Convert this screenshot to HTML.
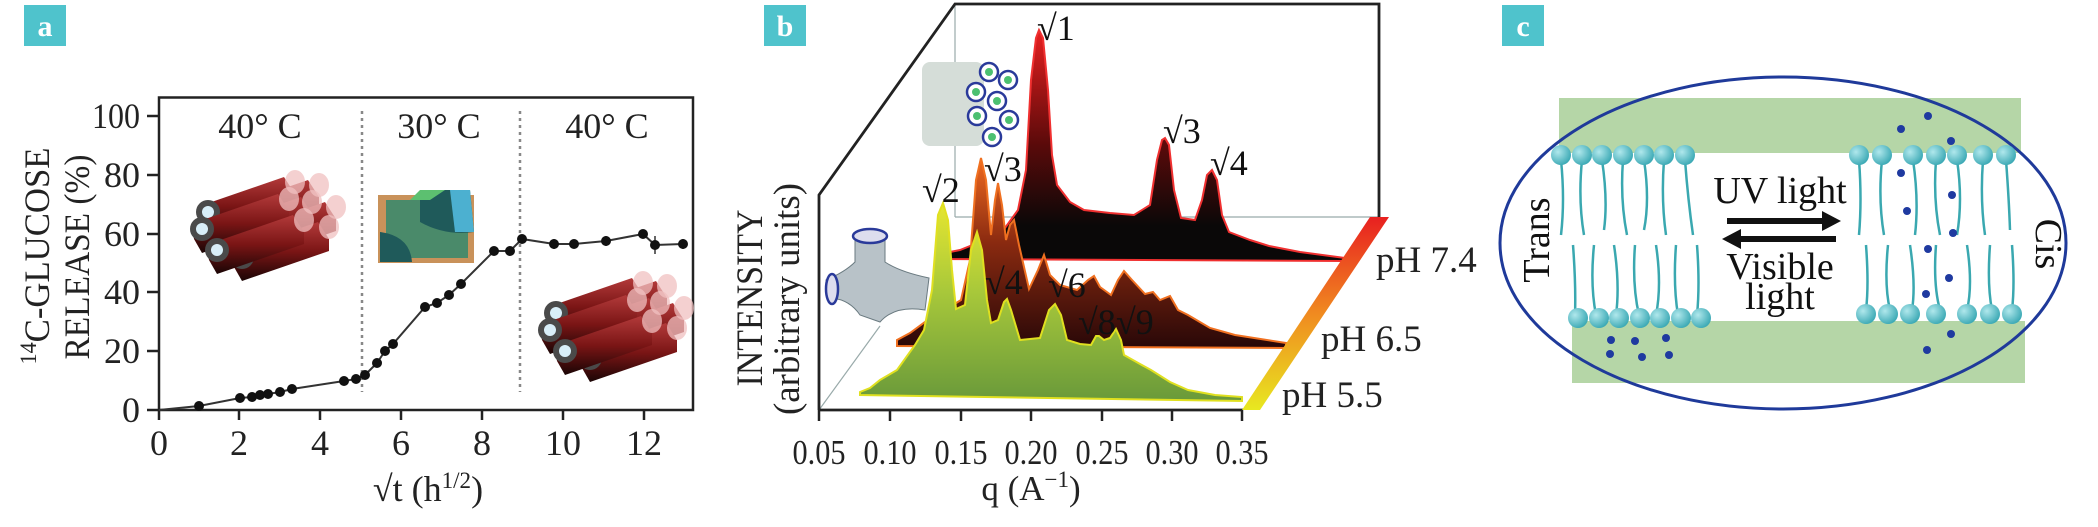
<!DOCTYPE html>
<html><head><meta charset="utf-8"><style>
body{margin:0;background:#fff;}
svg{display:block;font-family:"Liberation Serif",serif;}
</style></head><body>
<svg width="2098" height="527" viewBox="0 0 2098 527" xmlns="http://www.w3.org/2000/svg">
<defs>
<linearGradient id="cyl" x1="0" y1="0" x2="0" y2="1"><stop offset="0" stop-color="#b33a3a"/><stop offset="0.5" stop-color="#7a1515"/><stop offset="1" stop-color="#1a0505"/></linearGradient>
<g id="cy">
<path d="M-11,-5 L76,-35 L87,-18 L87,-6 L0,24 L-8,10 Z" fill="url(#cyl)"/>
<ellipse cx="87" cy="-30" rx="10" ry="12" fill="#f0c0c0" opacity="0.75"/>
<circle cx="0" cy="0" r="12" fill="#4a4a4a"/>
<circle cx="0" cy="0" r="6" fill="#d8eef8"/>
</g>
<g id="bundle">
<use href="#cy" x="24" y="3"/><use href="#cy" x="0" y="0"/><use href="#cy" x="41" y="25"/><use href="#cy" x="17" y="20"/><use href="#cy" x="-6" y="17"/><use href="#cy" x="34" y="45"/><use href="#cy" x="9" y="38"/>
</g>
<linearGradient id="gBack" gradientUnits="userSpaceOnUse" x1="0" y1="30" x2="0" y2="260"><stop offset="0" stop-color="#e82020"/><stop offset="0.5" stop-color="#5a0a0a"/><stop offset="0.85" stop-color="#0a0808"/></linearGradient>
<linearGradient id="gMid" gradientUnits="userSpaceOnUse" x1="0" y1="158" x2="0" y2="346"><stop offset="0" stop-color="#f06a20"/><stop offset="0.45" stop-color="#8a2a10"/><stop offset="1" stop-color="#2a0808"/></linearGradient>
<linearGradient id="gFront" gradientUnits="userSpaceOnUse" x1="0" y1="203" x2="0" y2="400"><stop offset="0" stop-color="#e6e630"/><stop offset="0.45" stop-color="#a8c83a"/><stop offset="1" stop-color="#6a9a3a"/></linearGradient>
<linearGradient id="gBand" gradientUnits="userSpaceOnUse" x1="0" y1="410" x2="0" y2="217"><stop offset="0" stop-color="#e8e820"/><stop offset="0.5" stop-color="#f08a20"/><stop offset="1" stop-color="#e82020"/></linearGradient>
<radialGradient id="head" cx="0.35" cy="0.35" r="0.7"><stop offset="0" stop-color="#b0e8ec"/><stop offset="1" stop-color="#3aa8b4"/></radialGradient>
</defs>

<!-- Panel a -->
<rect x="24" y="5" width="42" height="41" fill="#4fc3cc"/>
<text x="45" y="36" font-size="30" fill="#fff" text-anchor="middle" font-weight="bold">a</text>
<rect x="159" y="97.5" width="534" height="312.5" fill="none" stroke="#222" stroke-width="2.5"/>
<g stroke="#222" stroke-width="2.5">
<line x1="147" y1="116" x2="159" y2="116"/><line x1="147" y1="175" x2="159" y2="175"/><line x1="147" y1="234" x2="159" y2="234"/><line x1="147" y1="292" x2="159" y2="292"/><line x1="147" y1="351" x2="159" y2="351"/><line x1="147" y1="410" x2="159" y2="410"/>
<line x1="159" y1="410" x2="159" y2="420"/><line x1="239" y1="410" x2="239" y2="420"/><line x1="320" y1="410" x2="320" y2="420"/><line x1="401" y1="410" x2="401" y2="420"/><line x1="482" y1="410" x2="482" y2="420"/><line x1="563" y1="410" x2="563" y2="420"/><line x1="644" y1="410" x2="644" y2="420"/>
</g>
<g font-size="36" fill="#222" text-anchor="end">
<text x="140" y="128" textLength="48" lengthAdjust="spacingAndGlyphs">100</text><text x="140" y="187">80</text><text x="140" y="246">60</text><text x="140" y="304">40</text><text x="140" y="363">20</text><text x="140" y="422">0</text>
</g>
<g font-size="36" fill="#222" text-anchor="middle">
<text x="159" y="455">0</text><text x="239" y="455">2</text><text x="320" y="455">4</text><text x="401" y="455">6</text><text x="482" y="455">8</text><text x="563" y="455">10</text><text x="644" y="455">12</text>
<text x="428" y="501">√t (h<tspan font-size="23" dy="-13">1/2</tspan><tspan dy="13">)</tspan></text>
</g>
<g font-size="36" fill="#222" text-anchor="middle">
<text transform="translate(49,256) rotate(-90)" textLength="217" lengthAdjust="spacingAndGlyphs"><tspan font-size="23" dy="-13">14</tspan><tspan dy="13">C-GLUCOSE</tspan></text>
<text transform="translate(89,257) rotate(-90)" textLength="205" lengthAdjust="spacingAndGlyphs">RELEASE (%)</text>
</g>
<g font-size="36" fill="#222" text-anchor="middle">
<text x="260" y="138">40° C</text><text x="439" y="138">30° C</text><text x="607" y="138">40° C</text>
</g>
<g stroke="#888" stroke-width="2.5" stroke-dasharray="3,4"><line x1="362" y1="111" x2="362" y2="392"/><line x1="520" y1="111" x2="520" y2="392"/></g>
<polyline fill="none" stroke="#333" stroke-width="2" points="159,410 199,406 240,398 252,397 260,395 268,394 280,392 292,389 344,381 356,379 365,375 377,363 385,351 393,344 425,307 437,303 449,295 461,284 494,251 510,251 522,239 554,244 574,244 606,241 643,234 655,245 683,244"/>
<g stroke="#333" stroke-width="1.5"><line x1="655" y1="236" x2="655" y2="254"/><line x1="554" y1="239" x2="554" y2="249"/><line x1="606" y1="236" x2="606" y2="246"/><line x1="683" y1="239" x2="683" y2="249"/></g>
<g fill="#111">
<circle cx="199" cy="406" r="5"/><circle cx="240" cy="398" r="5"/><circle cx="252" cy="397" r="5"/><circle cx="260" cy="395" r="5"/><circle cx="268" cy="394" r="5"/><circle cx="280" cy="392" r="5"/><circle cx="292" cy="389" r="5"/><circle cx="344" cy="381" r="5"/><circle cx="356" cy="379" r="5"/><circle cx="365" cy="375" r="5"/><circle cx="377" cy="363" r="5"/><circle cx="385" cy="351" r="5"/><circle cx="393" cy="344" r="5"/><circle cx="425" cy="307" r="5"/><circle cx="437" cy="303" r="5"/><circle cx="449" cy="295" r="5"/><circle cx="461" cy="284" r="5"/><circle cx="494" cy="251" r="5"/><circle cx="510" cy="251" r="5"/><circle cx="522" cy="239" r="5"/><circle cx="554" cy="244" r="5"/><circle cx="574" cy="244" r="5"/><circle cx="606" cy="241" r="5"/><circle cx="643" cy="234" r="5"/><circle cx="655" cy="245" r="5"/><circle cx="683" cy="244" r="5"/>
</g>
<use href="#bundle" x="208" y="212"/>
<use href="#bundle" x="556" y="313"/>
<!-- cube -->
<g>
<rect x="378" y="195" width="96" height="68" fill="#c9925a"/>
<rect x="386" y="200" width="82" height="58" fill="#4a8a6a"/>
<path d="M420,190 L470,190 L474,232 Q445,236 420,222 Z" fill="#1f5a5a"/>
<path d="M450,190 L470,190 L474,232 L455,232 Z" fill="#4cb0d0"/>
<path d="M420,190 L445,190 L430,200 L410,200Z" fill="#5cc070"/>
<path d="M380,232 Q410,236 412,262 L380,262 Z" fill="#1f5a5a"/>
</g>

<!-- Panel b -->
<rect x="764" y="5" width="42" height="41" fill="#4fc3cc"/>
<text x="785" y="36" font-size="30" fill="#fff" text-anchor="middle" font-weight="bold">b</text>
<line x1="955" y1="4" x2="955" y2="217" stroke="#9aa" stroke-width="1.2"/>
<line x1="955" y1="217" x2="1379" y2="217" stroke="#9aa" stroke-width="1.2"/>
<line x1="819" y1="410" x2="880" y2="326" stroke="#9aa" stroke-width="1.2"/>
<!-- back spectrum -->
<path d="M935,255 L960,250 L985,240 L1005,228 L1018,210 L1026,170 L1031,80 L1036,38 L1039,30 L1043,38 L1048,90 L1052,155 L1057,185 L1070,202 L1084,210 L1110,213 L1134,215 L1150,205 L1157,160 L1162,140 L1165,138 L1169,145 L1174,190 L1181,218 L1195,220 L1202,200 L1207,175 L1212,170 L1217,180 L1222,215 L1229,232 L1250,240 L1269,246 L1300,252 L1345,258 L1345,261 L935,259 Z" fill="url(#gBack)" stroke="#f03030" stroke-width="2"/>
<!-- mid spectrum -->
<path d="M897,340 L910,333 L925,322 L945,310 L961,300 L970,260 L976,180 L981,158 L986,180 L991,235 L995,200 L998,183 L1002,205 L1006,240 L1010,225 L1014,220 L1019,245 L1029,289 L1038,270 L1044,255 L1050,275 L1060,285 L1077,290 L1088,280 L1094,276 L1100,287 L1111,295 L1118,280 L1124,271 L1132,280 L1145,294 L1153,292 L1160,300 L1170,296 L1178,310 L1188,315 L1210,328 L1235,335 L1286,343 L1286,348 L897,346 Z" fill="url(#gMid)" stroke="#f07020" stroke-width="2"/>
<!-- front spectrum -->
<path d="M860,392 L870,388 L880,380 L897,370 L915,345 L924,330 L932,290 L938,215 L943,203 L948,220 L952,270 L956,309 L965,305 L971,250 L977,232 L982,250 L987,300 L991,323 L998,320 L1004,302 L1007,299 L1011,310 L1020,340 L1030,339 L1040,338 L1049,310 L1055,304 L1061,315 L1067,340 L1080,344 L1091,345 L1096,336 L1099,336 L1104,340 L1110,338 L1116,329 L1121,340 L1124,355 L1140,364 L1151,370 L1170,382 L1188,390 L1215,395 L1242,397 L1242,401 L860,395 Z" fill="url(#gFront)" stroke="#e0e020" stroke-width="2"/>
<g stroke="#222" stroke-width="2.8" fill="none">
<polyline points="819,410 819,195 955,4 1379,4 1379,217"/>
<line x1="819" y1="410" x2="1243" y2="410"/>
</g>
<g stroke="#222" stroke-width="2.5">
<line x1="819" y1="410" x2="819" y2="421"/><line x1="890" y1="410" x2="890" y2="421"/><line x1="961" y1="410" x2="961" y2="421"/><line x1="1031" y1="410" x2="1031" y2="421"/><line x1="1102" y1="410" x2="1102" y2="421"/><line x1="1172" y1="410" x2="1172" y2="421"/><line x1="1242" y1="410" x2="1242" y2="421"/>
</g>
<g font-size="35" fill="#222" text-anchor="middle">
<text x="819" y="464" textLength="53" lengthAdjust="spacingAndGlyphs">0.05</text><text x="890" y="464" textLength="53" lengthAdjust="spacingAndGlyphs">0.10</text><text x="961" y="464" textLength="53" lengthAdjust="spacingAndGlyphs">0.15</text><text x="1031" y="464" textLength="53" lengthAdjust="spacingAndGlyphs">0.20</text><text x="1102" y="464" textLength="53" lengthAdjust="spacingAndGlyphs">0.25</text><text x="1172" y="464" textLength="53" lengthAdjust="spacingAndGlyphs">0.30</text><text x="1242" y="464" textLength="53" lengthAdjust="spacingAndGlyphs">0.35</text>
<text x="1031" y="500">q (A<tspan font-size="23" dy="-13">−1</tspan><tspan dy="13">)</tspan></text>
<text transform="translate(762,298) rotate(-90)" font-size="37" textLength="177" lengthAdjust="spacingAndGlyphs">INTENSITY</text>
<text transform="translate(799,299) rotate(-90)" font-size="37" textLength="232" lengthAdjust="spacingAndGlyphs">(arbitrary units)</text>
</g>
<!-- pH band -->
<path d="M1242,410 L1260,410 L1389,217 L1370,217 Z" fill="url(#gBand)"/>
<g font-size="37" fill="#222">
<text x="1376" y="272">pH 7.4</text><text x="1321" y="351">pH 6.5</text><text x="1282" y="407">pH 5.5</text>
</g>
<g font-size="36" fill="#111">
<text x="1037" y="40">√1</text><text x="1163" y="143">√3</text><text x="1210" y="175">√4</text><text x="984" y="181">√3</text><text x="922" y="202">√2</text><text x="985" y="294">√4</text><text x="1048" y="297">√6</text><text x="1078" y="334">√8</text><text x="1116" y="334">√9</text>
</g>
<!-- hex cylinders icon -->
<g>
<rect x="922" y="62" width="62" height="84" rx="8" fill="#d5ddd8"/>
<g fill="#fff" stroke="#2a3a9a" stroke-width="2.5">
<circle cx="989" cy="72" r="9"/><circle cx="1008" cy="80" r="9"/><circle cx="976" cy="92" r="9"/><circle cx="997" cy="101" r="9"/><circle cx="1009" cy="120" r="9"/><circle cx="977" cy="116" r="9"/><circle cx="992" cy="137" r="9"/>
</g>
<g fill="#4cc070"><circle cx="989" cy="72" r="4"/><circle cx="1008" cy="80" r="4"/><circle cx="976" cy="92" r="4"/><circle cx="997" cy="101" r="4"/><circle cx="1009" cy="120" r="4"/><circle cx="977" cy="116" r="4"/><circle cx="992" cy="137" r="4"/></g>
</g>
<!-- gyroid icon -->
<path d="M855,236 L885,236 L885,262 Q900,272 929,278 L925,310 Q895,305 880,322 L860,315 Q850,300 832,298 L826,280 Q845,272 855,262 Z" fill="#b8c2c8" stroke="#6a7a80"/>
<ellipse cx="870" cy="236" rx="17" ry="7" fill="#dde" stroke="#2a3a9a" stroke-width="2.5"/>
<ellipse cx="832" cy="289" rx="6" ry="15" fill="#dde" stroke="#2a3a9a" stroke-width="2.5"/>

<!-- Panel c -->
<rect x="1502" y="5" width="42" height="41" fill="#4fc3cc"/>
<text x="1523" y="36" font-size="30" fill="#fff" text-anchor="middle" font-weight="bold">c</text>
<rect x="1559" y="98" width="462" height="55" fill="#b5d6a7"/>
<rect x="1572" y="321" width="453" height="62" fill="#b5d6a7"/>
<ellipse cx="1783" cy="243" rx="283" ry="166" fill="none" stroke="#1f3a9a" stroke-width="3"/>
<g stroke="#3aa8b0" stroke-width="2.5" fill="none">
<path d="M1561,160 q4,40 0,75 M1582,160 q-4,40 2,75 M1602,160 q6,40 2,70 M1623,160 q-3,40 4,75 M1644,160 q6,40 0,70 M1664,160 q-3,40 2,75 M1685,160 q3,40 8,75"/>
<path d="M1573,245 q3,40 2,70 M1594,245 q-4,40 2,70 M1614,245 q6,40 2,70 M1635,245 q-3,40 4,70 M1656,245 q6,40 0,70 M1676,245 q-3,40 2,70 M1697,245 q3,40 0,70"/>
<path d="M1859,160 q3,40 0,75 M1882,160 q-4,40 2,75 M1913,160 q6,40 2,75 M1936,160 q-3,40 4,75 M1957,160 q6,40 0,75 M1983,160 q-3,40 2,75 M2006,160 q3,40 4,70"/>
<path d="M1866,245 q3,40 0,65 M1888,245 q-4,40 2,65 M1910,245 q6,40 2,65 M1936,245 q-3,40 4,65 M1967,245 q6,40 0,65 M1990,245 q-3,40 2,65 M2012,245 q3,40 0,65"/>
</g>
<g fill="url(#head)">
<circle cx="1561" cy="155" r="10"/><circle cx="1582" cy="155" r="10"/><circle cx="1602" cy="155" r="10"/><circle cx="1623" cy="155" r="10"/><circle cx="1644" cy="155" r="10"/><circle cx="1664" cy="155" r="10"/><circle cx="1685" cy="155" r="10"/>
<circle cx="1578" cy="318" r="10"/><circle cx="1599" cy="318" r="10"/><circle cx="1619" cy="318" r="10"/><circle cx="1640" cy="318" r="10"/><circle cx="1660" cy="318" r="10"/><circle cx="1681" cy="318" r="10"/><circle cx="1701" cy="318" r="10"/>
<circle cx="1859" cy="155" r="10"/><circle cx="1882" cy="155" r="10"/><circle cx="1913" cy="155" r="10"/><circle cx="1936" cy="155" r="10"/><circle cx="1957" cy="155" r="10"/><circle cx="1983" cy="155" r="10"/><circle cx="2006" cy="155" r="10"/>
<circle cx="1866" cy="314" r="10"/><circle cx="1888" cy="314" r="10"/><circle cx="1910" cy="314" r="10"/><circle cx="1936" cy="314" r="10"/><circle cx="1967" cy="314" r="10"/><circle cx="1990" cy="314" r="10"/><circle cx="2012" cy="314" r="10"/>
</g>
<g fill="#1f3aa0">
<circle cx="1611" cy="340" r="4"/><circle cx="1635" cy="341" r="4"/><circle cx="1666" cy="338" r="4"/><circle cx="1610" cy="354" r="4"/><circle cx="1642" cy="357" r="4"/><circle cx="1669" cy="355" r="4"/>
<circle cx="1928" cy="116" r="4"/><circle cx="1901" cy="129" r="4"/><circle cx="1951" cy="141" r="4"/><circle cx="1901" cy="173" r="4"/><circle cx="1952" cy="195" r="4"/><circle cx="1907" cy="211" r="4"/><circle cx="1953" cy="233" r="4"/><circle cx="1928" cy="249" r="4"/><circle cx="1949" cy="278" r="4"/><circle cx="1926" cy="294" r="4"/><circle cx="1951" cy="334" r="4"/><circle cx="1927" cy="350" r="4"/>
</g>
<g font-size="38" fill="#111" text-anchor="middle">
<text x="1780" y="203">UV light</text><text x="1780" y="279">Visible</text><text x="1780" y="309">light</text>
<text transform="translate(1549,240) rotate(-90)">Trans</text>
<text transform="translate(2036,244) rotate(90)">Cis</text>
</g>
<g fill="#111">
<rect x="1727" y="218" width="98" height="6"/><path d="M1822,211 L1841,221 L1822,231 Z"/>
<rect x="1738" y="236" width="98" height="6"/><path d="M1741,229 L1722,239 L1741,249 Z"/>
</g>
</svg>
</body></html>
